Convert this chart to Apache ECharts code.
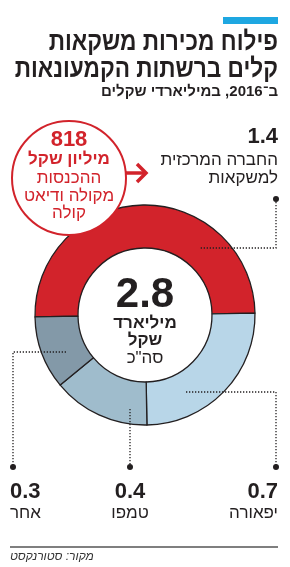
<!DOCTYPE html>
<html>
<head>
<meta charset="utf-8">
<script src="https://cdn.jsdelivr.net/npm/echarts@6/dist/echarts.min.js"></script>
<style>html,body{margin:0;padding:0;background:#fff}#c{width:290px;height:567px}</style>
</head>
<body>
<div id="c"></div>
<script>
// ---- data ----
var categories = ['החברה המרכזית למשקאות', 'יפאורה', 'טמפו', 'אחר'];
var labelLines = [['החברה המרכזית', 'למשקאות'], ['יפאורה'], ['טמפו'], ['אחר']];
var values = [1.4, 0.7, 0.4, 0.3];
var totalValue = 2.8;
var colors = ['#d2232b', '#b8d6e8', '#9fbccc', '#8399a8'];
var titleLines = ['פילוח מכירות משקאות', 'קלים ברשתות הקמעונאות'];
var subtitle = 'ב־2016, במיליארדי שקלים';
var totalUnit = ['מיליארד', 'שקל', 'סה"כ'];
var bubbleValue = 818;
var bubbleLines = ['מיליון שקל', 'ההכנסות', 'מקולה ודיאט', 'קולה'];
var source = 'מקור: סטורנקסט';

var FF = '"Liberation Sans", "DejaVu Sans", sans-serif';
var RED = '#d2232b';
function txt(text, x, y, size, weight, align, fill, extra) {
  var s = {text: text, x: x, y: y, fontSize: size, fontWeight: weight, fontFamily: FF,
           align: align, verticalAlign: 'middle', fill: fill || '#231f20'};
  if (extra) for (var k in extra) s[k] = extra[k];
  return {type: 'text', z: 100, silent: true, style: s};
}
function titleTxt(text, x, y, size, sx) {
  var t = txt(text, 0, 0, size, 'bold', 'right');
  t.x = x; t.y = y; t.scaleX = sx;
  return t;
}
function dotted(points) {
  return {type: 'polyline', z: 90, silent: true, shape: {points: points},
          style: {stroke: '#231f20', lineWidth: 1.3, lineDash: [1.3, 1.7], fill: null}};
}
function dot(x, y) {
  return {type: 'circle', z: 91, silent: true, shape: {cx: x, cy: y, r: 3}, style: {fill: '#231f20'}};
}

var g = [];
g.push({type: 'rect', silent: true, shape: {x: 223, y: 17, width: 55, height: 7}, style: {fill: '#1ea7e1'}});
g.push(titleTxt(titleLines[0], 278, 43, 26, 0.87));
g.push(titleTxt(titleLines[1], 278, 70, 26, 0.87));
g.push(txt(subtitle, 278, 92, 15, 'bold', 'right'));

// bubble
g.push({type: 'circle', z: 95, silent: true, shape: {cx: 69, cy: 178, r: 57},
        style: {fill: '#fff', stroke: RED, lineWidth: 2}});
g.push({type: 'line', z: 95, silent: true, shape: {x1: 126, y1: 173, x2: 145, y2: 173},
        style: {stroke: RED, lineWidth: 3.5}});
g.push({type: 'polyline', z: 95, silent: true, shape: {points: [[137, 164], [146, 173], [137, 182]]},
        style: {stroke: RED, lineWidth: 3.5, fill: null}});
g.push(txt(String(bubbleValue), 69, 140, 22, 'bold', 'center', RED));
g.push(txt(bubbleLines[0], 69, 159, 17, 'bold', 'center', RED));
g.push(txt(bubbleLines[1], 69, 178, 17, 'normal', 'center', RED));
g.push(txt(bubbleLines[2], 69, 196, 17, 'normal', 'center', RED));
g.push(txt(bubbleLines[3], 69, 213, 17, 'normal', 'center', RED));

// center
g.push(txt(totalValue.toFixed(1), 145, 295, 42, 'bold', 'center'));
g.push(txt(totalUnit[0], 145, 323, 17, 'bold', 'center'));
g.push(txt(totalUnit[1], 145, 340, 17, 'bold', 'center'));
g.push(txt(totalUnit[2], 145, 358, 17, 'normal', 'center'));

// labels: 1.4
g.push(txt(values[0].toFixed(1), 278, 137, 22, 'bold', 'right'));
g.push(txt(labelLines[0][0], 278, 160, 17, 'normal', 'right'));
g.push(txt(labelLines[0][1], 278, 178, 17, 'normal', 'right'));
g.push(dotted([[276, 199], [276, 248], [200, 248]]));
g.push(dot(276, 199));
// 0.7
g.push(dotted([[186, 392], [276, 392], [276, 467]]));
g.push(dot(276, 467));
g.push(txt(values[1].toFixed(1), 278, 492, 22, 'bold', 'right'));
g.push(txt(labelLines[1][0], 278, 513, 17, 'normal', 'right'));
// 0.4
g.push(dotted([[130, 409], [130, 467]]));
g.push(dot(130, 467));
g.push(txt(values[2].toFixed(1), 130, 492, 22, 'bold', 'center'));
g.push(txt(labelLines[2][0], 130, 513, 17, 'normal', 'center'));
// 0.3
g.push(dotted([[66, 352], [13, 352], [13, 467]]));
g.push(dot(13, 467));
g.push(txt(values[3].toFixed(1), 10, 492, 22, 'bold', 'left'));
g.push(txt(labelLines[3][0], 10, 513, 17, 'normal', 'left'));

// footer
g.push({type: 'line', silent: true, shape: {x1: 10, y1: 547, x2: 278, y2: 547}, style: {stroke: '#555', lineWidth: 1.5}});
g.push(txt(source, 10, 557, 12, 'normal', 'left', '#333', {fontStyle: 'italic'}));

var chart = echarts.init(document.getElementById('c'), null, {renderer: 'canvas'});
chart.setOption({
  animation: false,
  backgroundColor: '#fff',
  series: [{
    type: 'pie',
    silent: true,
    center: [145, 315],
    radius: [67, 110],
    startAngle: 181,
    clockwise: true,
    label: {show: false},
    labelLine: {show: false},
    itemStyle: {borderColor: '#231f20', borderWidth: 1.3},
    data: categories.map(function (c, i) {
      return {name: c, value: values[i], itemStyle: {color: colors[i]}};
    })
  }],
  graphic: g
});
</script>
</body>
</html>
